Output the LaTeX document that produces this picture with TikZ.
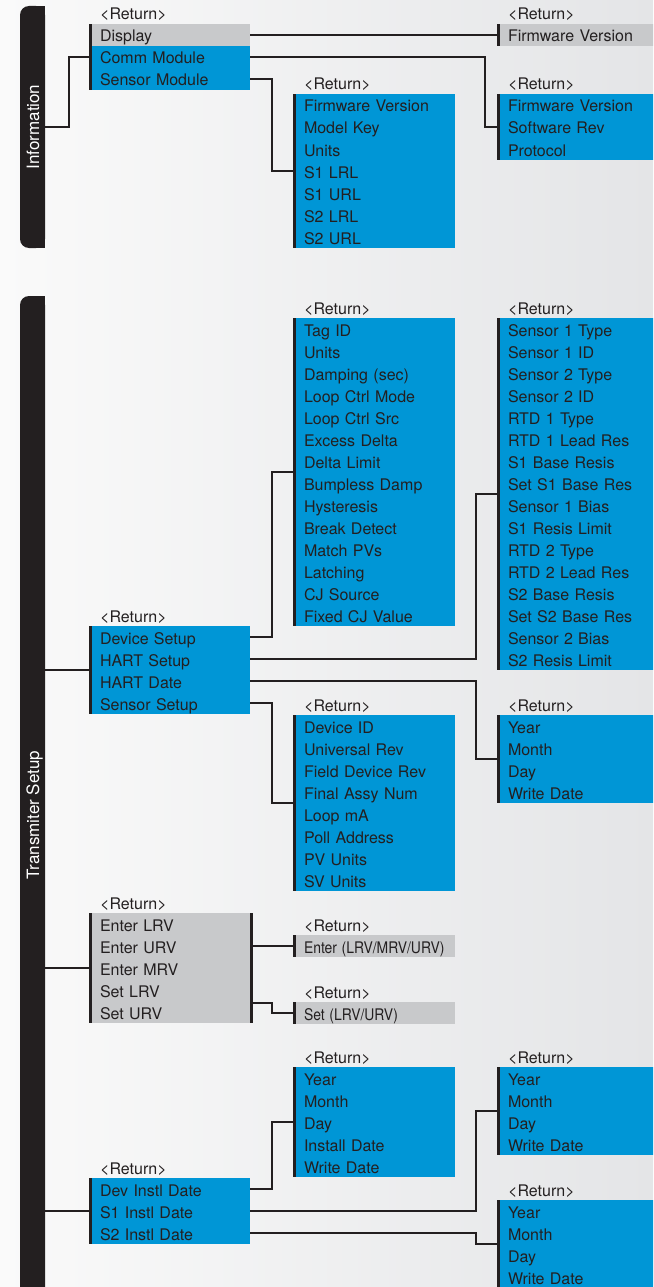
\documentclass[tikz,border=0pt]{standalone}
\usepackage{fontspec}
\usepackage{graphicx}
\usetikzlibrary{fit}
\newfontfamily\hv{TeX Gyre Heros}
\definecolor{ink}{HTML}{231F20}
\definecolor{mblue}{HTML}{0096D6}
\definecolor{mgray}{HTML}{C8C9CB}
\definecolor{bgl}{HTML}{FAFAFA}
\definecolor{bgr}{HTML}{E4E5E7}
\newcommand\mrowfont{\hv\fontsize{16}{19}\selectfont}
\newcommand\mtabfont{\hv\fontsize{17}{20}\selectfont}
\newcommand\cond[1]{\scalebox{0.87}[1]{#1}}
% #1 first-row fill (optional), #2 name, #3 x, #4 top y, #5 width, #6 fill, #7 rows
\newcommand\menubox[7][]{%
  \pgfmathsetmacro\tw{#5-22}%
  \node[retlbl] (#2-r) at ({#3+11},{#4-4}) {<Return>};
  \foreach \t [count=\i] in {#7} {
    \ifnum\i=1 \def\rc{#1}\ifx\rc\empty\def\rc{#6}\fi\else\def\rc{#6}\fi
    \node[mrow, fill=\rc, text width=\tw pt] (#2-\i) at ({#3},{#4+22*(\i-1)}) {\t};
    \xdef\lastrow{\i}
  }
  \node[fit=(#2-1)(#2-\lastrow), inner sep=0pt, outer sep=0pt] (#2) {};
}
\begin{document}
\begin{tikzpicture}[x=1pt,y=-1pt,
  mrow/.style={anchor=north west, inner xsep=11pt, inner ysep=0pt, outer sep=0pt,
    minimum height=22pt, text height=14pt, text depth=0pt, align=left,
    font=\mrowfont, text=ink,
    path picture={\fill[ink] (path picture bounding box.north west) rectangle ([xshift=3pt]path picture bounding box.south west);}},
  retlbl/.style={anchor=base west, inner sep=0pt, font=\mrowfont, text=ink},
  conn/.style={draw=ink, line width=2pt},
  tabbox/.style={inner sep=0pt, outer sep=0pt, minimum width=25pt, anchor=north west},
  tabtext/.style={rotate=90, anchor=base, inner sep=0pt, font=\mtabfont, text=white}]
\useasboundingbox (0,0) rectangle (653,1287);
\clip (0,0) rectangle (653,1287);
\shade[left color=bgl, right color=bgr] (0,0) rectangle (653,1287);

% tabs
\node[tabbox, minimum height=242pt] (itab) at (20,6) {};
\fill[ink, rounded corners=9pt] (itab.north west) rectangle (itab.south east);
\fill[ink] (itab.north) rectangle (itab.south east);
\node[tabtext] (itabt) at (39,127) {Information};

\node[tabbox, minimum height=1004pt] (ttab) at (20,296) {};
\fill[ink, rounded corners=9pt] (ttab.north west) rectangle (ttab.south east);
\fill[ink] (ttab.north) rectangle (ttab.south east);
\node[tabtext] (ttabt) at (39,815) {Transmiter Setup};

% Information
\menubox[mgray]{info}{89}{24}{161}{mblue}{Display,Comm Module,Sensor Module}
\menubox{fwd}{497}{24}{160}{mgray}{Firmware Version}
\menubox{comm}{497}{94}{160}{mblue}{Firmware Version,Software Rev,Protocol}
\menubox{sens}{293}{94}{162}{mblue}{Firmware Version,Model Key,Units,S1 LRL,S1 URL,S2 LRL,S2 URL}

% Transmitter setup
\menubox{dev}{89}{626}{161}{mblue}{Device Setup,HART Setup,HART Date,Sensor Setup}
\menubox{tag}{293}{318}{162}{mblue}{Tag ID,Units,Damping (sec),Loop Ctrl Mode,Loop Ctrl Src,Excess Delta,Delta Limit,Bumpless Damp,Hysteresis,Break Detect,Match PVs,Latching,CJ Source,Fixed CJ Value}
\menubox{sensor}{497}{318}{160}{mblue}{Sensor 1 Type,Sensor 1 ID,Sensor 2 Type,Sensor 2 ID,RTD 1 Type,RTD 1 Lead Res,S1 Base Resis,Set S1 Base Res,Sensor 1 Bias,S1 Resis Limit,RTD 2 Type,RTD 2 Lead Res,S2 Base Resis,Set S2 Base Res,Sensor 2 Bias,S2 Resis Limit}
\menubox{hdate}{497}{715}{160}{mblue}{Year,Month,Day,Write Date}
\menubox{devid}{293}{715}{162}{mblue}{Device ID,Universal Rev,Field Device Rev,Final Assy Num,Loop mA,Poll Address,PV Units,SV Units}

\menubox{range}{89}{913}{161}{mgray}{Enter LRV,Enter URV,Enter MRV,Set LRV,Set URV}
\fill[ink] (range.north east) rectangle ([xshift=3pt]range.south east);
\menubox{enter}{293}{935}{162}{mgray}{\cond{Enter (LRV/MRV/URV)}}
\menubox{setb}{293}{1002}{162}{mgray}{\cond{Set (LRV/URV)}}

\menubox{inst}{89}{1178}{161}{mblue}{Dev Instl Date,S1 Instl Date,S2 Instl Date}
\menubox{iy}{293}{1067}{162}{mblue}{Year,Month,Day,Install Date,Write Date}
\menubox{s1y}{497}{1067}{160}{mblue}{Year,Month,Day,Write Date}
\menubox{s2y}{497}{1200}{160}{mblue}{Year,Month,Day,Write Date}

% connectors
\draw[conn] (itab.east) -- ++(24,0) |- (info.west);
\draw[conn] (info-1.east) -- (fwd.west);
\draw[conn] (info-2.east) -- ++(235,0) |- (comm.west);
\draw[conn] (info-3.east) -- ++(22,0) |- (sens.west);

\draw[conn] (dev.west) -- (dev.west -| ttab.east);
\draw[conn] (dev-1.east) -- ++(22,0) |- (tag.west);
\draw[conn] (dev-2.east) -- ++(226,0) |- (sensor.west);
\draw[conn] (dev-3.east) -- ++(226,0) |- (hdate.west);
\draw[conn] (dev-4.east) -- ++(22,0) |- (devid.west);

\draw[conn] (range.west) -- (range.west -| ttab.east);
\draw[conn] (range-2.east) -- (enter.west);
\draw[conn] ([yshift=-2pt]range-4.south east) -- ++(22,0) |- (setb.west);

\draw[conn] (inst.west) -- (inst.west -| ttab.east);
\draw[conn] (inst-1.east) -- ++(22,0) |- (iy.west);
\draw[conn] (inst-2.east) -- ++(226,0) |- (s1y.west);
\draw[conn] (inst-3.east) -- ++(226,0) |- (s2y.west);
\end{tikzpicture}
\end{document}
